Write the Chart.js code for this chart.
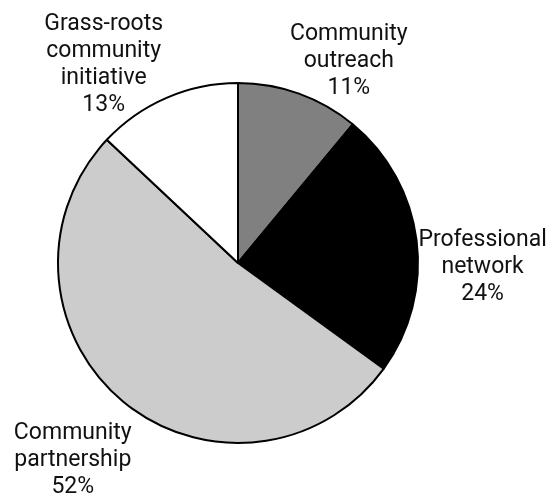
<!DOCTYPE html>
<html>
<head>
<meta charset="utf-8">
<script src="https://cdn.jsdelivr.net/npm/chart.js@4/dist/chart.umd.min.js"></script>
<style>
  html, body { margin: 0; padding: 0; background: #fff; }
  #wrap { position: relative; width: 552px; height: 497px; }
</style>
</head>
<body>
<div id="wrap"><canvas id="pie"></canvas></div>
<script>
// Share of each partnership type, clockwise from 12 o'clock
const categories = [
  ['Community', 'outreach'],
  ['Professional', 'network'],
  ['Community', 'partnership'],
  ['Grass-roots', 'community', 'initiative']
];
const shares = [11, 24, 52, 13];

const sliceColors = ['#808080', '#000000', '#cccccc', '#ffffff'];

// label block placement around the pie: angle nudge (degrees) and distance as a multiple of the radius
const labelPlacement = [
  { shift: 9, dist: 1.278 },
  { shift: 8.3, dist: 1.359 },
  { shift: 0.4, dist: 1.428 },
  { shift: -10.7, dist: 1.331 }
];

const outerLabels = {
  id: 'outerLabels',
  afterDatasetsDraw(chart) {
    const ctx = chart.ctx;
    const meta = chart.getDatasetMeta(0);
    const values = chart.data.datasets[0].data;
    ctx.save();
    ctx.font = '23px Roboto, "Liberation Sans", sans-serif';
    ctx.fillStyle = '#111';
    ctx.textAlign = 'center';
    ctx.textBaseline = 'middle';
    const lineH = 27;
    meta.data.forEach((arc, i) => {
      const p = labelPlacement[i];
      const mid = (arc.startAngle + arc.endAngle) / 2 + p.shift * Math.PI / 180;
      const cx = arc.x + Math.cos(mid) * arc.outerRadius * p.dist;
      const cy = arc.y + Math.sin(mid) * arc.outerRadius * p.dist;
      const lines = chart.data.labels[i].concat([values[i] + '%']);
      const top = cy - (lines.length - 1) * lineH / 2;
      lines.forEach((t, j) => ctx.fillText(t, cx, top + j * lineH));
    });
    ctx.restore();
  }
};

new Chart(document.getElementById('pie').getContext('2d'), {
  type: 'pie',
  data: {
    labels: categories,
    datasets: [{
      data: shares,
      backgroundColor: sliceColors,
      borderColor: '#000',
      borderWidth: 2
    }]
  },
  options: {
    responsive: true,
    maintainAspectRatio: false,
    animation: false,
    layout: { padding: { left: 57, right: 133, top: 82, bottom: 53 } },
    plugins: {
      legend: { display: false },
      tooltip: { enabled: false }
    }
  },
  plugins: [outerLabels]
});
</script>
</body>
</html>
